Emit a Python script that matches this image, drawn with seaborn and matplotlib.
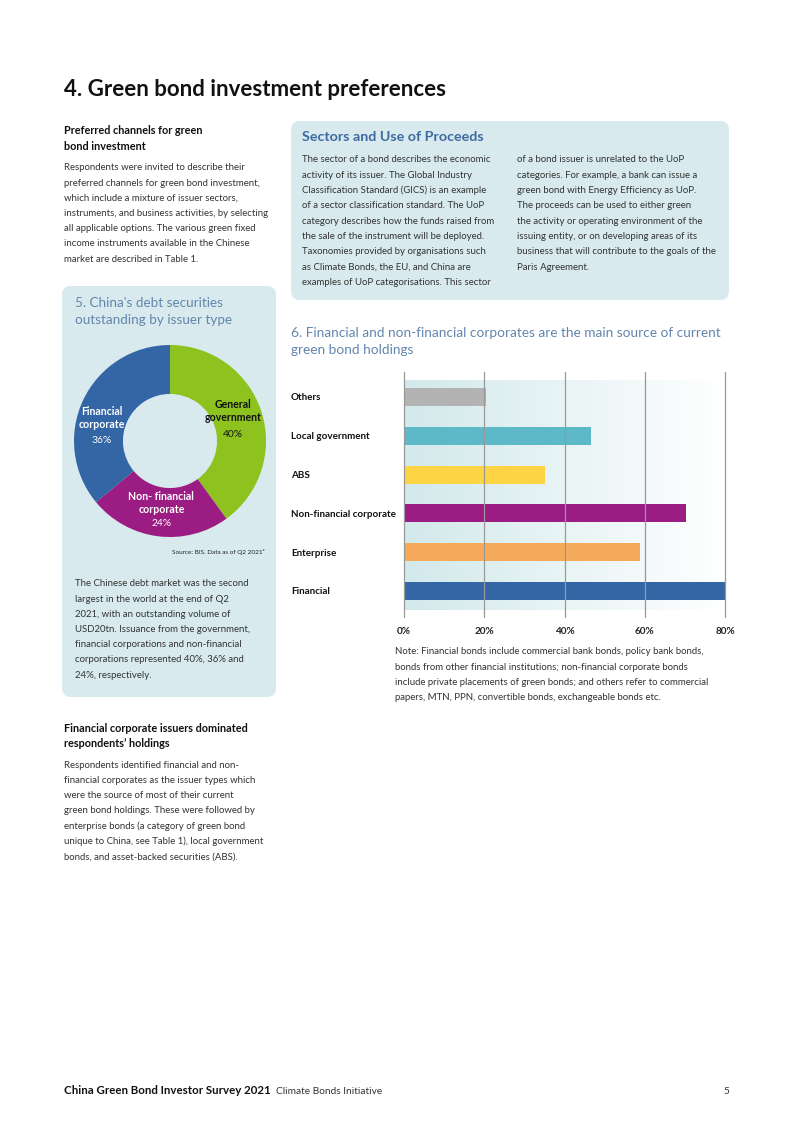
import numpy as np
import matplotlib
matplotlib.use('Agg')
import matplotlib.pyplot as plt
import seaborn as sns
from matplotlib.patches import FancyBboxPatch
from matplotlib.colors import LinearSegmentedColormap

# Chart 5: debt securities outstanding by issuer type (share, %)
pie_labels = ['General\ngovernment', 'Non- financial\ncorporate', 'Financial\ncorporate']
pie_values = [40, 24, 36]
pie_colors = ['#8dc21f', '#9b1c82', '#3465a4']

# Chart 6: source of current green bond holdings (% of respondents)
categories = ['Others', 'Local government', 'ABS', 'Non-financial corporate', 'Enterprise', 'Financial']
holdings = [20.5, 46.7, 35.2, 70.2, 58.7, 80.3]
bar_colors = ['#b3b3b3', '#5db8c8', '#fdd443', '#9b1c82', '#f5a95a', '#3465a4']
x_ticks = [0, 20, 40, 60, 80]

sns.set_theme(style='white')
plt.rcParams['font.family'] = ['Lato', 'DejaVu Sans']

W, H = 794, 1123
fig = plt.figure(figsize=(W / 100, H / 100), dpi=100)

# page layer in pixel coordinates
bg = fig.add_axes([0, 0, 1, 1])
bg.set_xlim(0, W)
bg.set_ylim(H, 0)
bg.axis('off')
bg.set_zorder(0)

box_color = '#d8eaee'
body = '#333333'
title_blue = '#6385ad'
BODY = 6.9


def box(x0, y0, x1, y1):
    bg.add_patch(FancyBboxPatch((x0 + 8, y0 + 8), x1 - x0 - 16, y1 - y0 - 16,
                                boxstyle='round,pad=8,rounding_size=9',
                                fc=box_color, ec='none'))


def lines(x, y0, step, rows, size=BODY, weight='normal', color=body, ha='left'):
    for i, r in enumerate(rows):
        bg.text(x, y0 + i * step, r, fontsize=size, fontweight=weight,
                color=color, ha=ha, va='center')


box(62, 286, 276, 697)
box(291, 121, 729, 300)

# page title
bg.text(64, 89, '4. Green bond investment preferences', fontsize=16,
        fontweight='bold', color='#111111', va='center')

# left column
lines(64, 130, 16, ['Preferred channels for green', 'bond investment'],
      size=7.8, weight='bold', color='#111111')
lines(64, 168, 15.2, [
    'Respondents were invited to describe their',
    'preferred channels for green bond investment,',
    'which include a mixture of issuer sectors,',
    'instruments, and business activities, by selecting',
    'all applicable options. The various green fixed',
    'income instruments available in the Chinese',
    'market are described in Table 1.'])

lines(75, 303, 16.5, ["5. China's debt securities", 'outstanding by issuer type'],
      size=9.7, color=title_blue)
bg.text(265, 552, 'Source: BIS. Data as of Q2 2021\u2074', fontsize=4.6,
        color='#222222', ha='right', va='center')
lines(75, 584, 15.2, [
    'The Chinese debt market was the second',
    'largest in the world at the end of Q2',
    '2021, with an outstanding volume of',
    'USD20tn. Issuance from the government,',
    'financial corporations and non-financial',
    'corporations represented 40%, 36% and',
    '24%, respectively.'])

lines(64, 728, 15.5, ['Financial corporate issuers dominated', "respondents\u2019 holdings"],
      size=7.8, weight='bold', color='#111111')
lines(64, 765, 15.3, [
    'Respondents identified financial and non-',
    'financial corporates as the issuer types which',
    'were the source of most of their current',
    'green bond holdings. These were followed by',
    'enterprise bonds (a category of green bond',
    'unique to China, see Table 1), local government',
    'bonds, and asset-backed securities (ABS).'])

# sectors box
bg.text(302, 137, 'Sectors and Use of Proceeds', fontsize=10.3, fontweight='bold',
        color='#3d6aa0', va='center')
lines(302, 160, 15.3, [
    'The sector of a bond describes the economic',
    'activity of its issuer. The Global Industry',
    'Classification Standard (GICS) is an example',
    'of a sector classification standard. The UoP',
    'category describes how the funds raised from',
    'the sale of the instrument will be deployed.',
    'Taxonomies provided by organisations such',
    'as Climate Bonds, the EU, and China are',
    'examples of UoP categorisations. This sector'])
lines(517, 160, 15.3, [
    'of a bond issuer is unrelated to the UoP',
    'categories. For example, a bank can issue a',
    'green bond with Energy Efficiency as UoP.',
    'The proceeds can be used to either green',
    'the activity or operating environment of the',
    'issuing entity, or on developing areas of its',
    'business that will contribute to the goals of the',
    'Paris Agreement.'])

# chart 6 title and note
lines(291, 333, 17, ['6. Financial and non-financial corporates are the main source of current',
                     'green bond holdings'], size=9.8, color=title_blue)
lines(395, 652, 15.3, [
    'Note: Financial bonds include commercial bank bonds, policy bank bonds,',
    'bonds from other financial institutions; non-financial corporate bonds',
    'include private placements of green bonds; and others refer to commercial',
    'papers, MTN, PPN, convertible bonds, exchangeable bonds etc.'])

# footer
foot = bg.text(64, 1091, 'China Green Bond Investor Survey 2021', fontsize=8.3,
               fontweight='bold', color='#111111', va='center')
fig.canvas.draw()
foot_end = bg.transData.inverted().transform(
    foot.get_window_extent(fig.canvas.get_renderer()))[1][0]
bg.text(foot_end + 5, 1091, 'Climate Bonds Initiative', fontsize=7.3, color=body, va='center')
bg.text(729, 1091, '5', fontsize=7.3, color=body, ha='right', va='center')

# ---- donut chart ----
cx, cy, r = 170, 441, 96
pax = fig.add_axes([(cx - r) / W, 1 - (cy + r) / H, 2 * r / W, 2 * r / H])
pax.set_zorder(1)
pax.patch.set_alpha(0)
pax.pie(pie_values, colors=pie_colors, startangle=90, counterclock=False,
        radius=1, wedgeprops=dict(width=0.51, edgecolor='none'))
pax.set_xlim(-1, 1)
pax.set_ylim(-1, 1)
label_pos = [(0.66, 0.31, 0.07, '#111111'), (-0.09, -0.65, -0.86, 'white'),
             (-0.71, 0.24, 0.01, 'white')]
for lab, val, (lx, ly, vy, c) in zip(pie_labels, pie_values, label_pos):
    pax.text(lx, ly, lab, ha='center', va='center', fontsize=7.6,
             fontweight='bold', color=c, linespacing=1.2)
    pax.text(lx, vy, f'{val}%', ha='center', va='center', fontsize=7.4, color=c)

# ---- bar chart ----
top, bottom = 372, 617
step = 38.8
ax = fig.add_axes([404 / W, 1 - bottom / H, (725 - 404) / W, (bottom - top) / H])
ax.set_zorder(1)
ax.patch.set_alpha(0)

grad = LinearSegmentedColormap.from_list('g', ['#d2e9eb', '#ffffff'])
ax.imshow(np.linspace(0, 1, 256).reshape(1, -1), cmap=grad, aspect='auto',
          extent=[0, 80, (610 - 397) / step, (380 - 397) / step], zorder=0)

sns.barplot(x=holdings, y=categories, hue=categories, palette=bar_colors,
            legend=False, orient='h', width=0.46, saturation=1, linewidth=0,
            ax=ax, zorder=2)
for p in ax.patches:
    p.set_clip_on(False)

ax.set_xlim(0, 80)
ax.set_ylim(5 + (bottom - 591) / step, -(397 - top) / step)
ax.set_xticks(x_ticks)
ax.set_xticklabels([f'{t}%' for t in x_ticks], fontweight='bold', fontsize=7.2,
                   color='#222222')
ax.grid(axis='x', color='#999999', lw=0.9)
ax.grid(axis='y', visible=False)
ax.set_axisbelow(False)
for gl in ax.get_xgridlines():
    gl.set_zorder(1)
    gl.set_clip_on(False)
for s in ax.spines.values():
    s.set_visible(False)
ax.tick_params(axis='x', length=0, pad=7)
ax.tick_params(axis='y', length=0, pad=(404 - 291) * 0.72)
for t in ax.get_yticklabels():
    t.set_ha('left')
    t.set_fontweight('bold')
    t.set_fontsize(7.1)
    t.set_color('#111111')
ax.set_xlabel('')
ax.set_ylabel('')

fig.savefig('out.png', dpi=100)
